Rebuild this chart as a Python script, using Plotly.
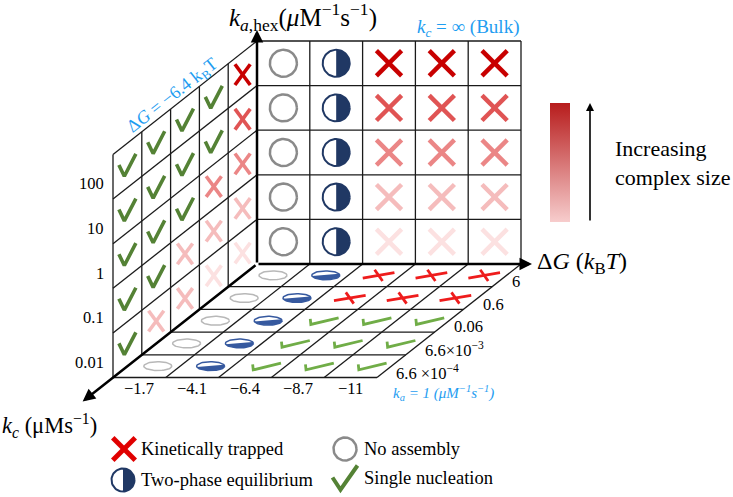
import numpy as np
import plotly.graph_objects as go

# ---- data -------------------------------------------------------------
dg_labels = ["−1.7", "−4.1", "−6.4", "−8.7", "−11"]
kc_labels = ["6", "0.6", "0.06", "6.6×10<sup>−3</sup>", "6.6 ×10<sup>−4</sup>"]
kahex_labels = ["0.01", "0.1", "1", "10", "100"]

# N = no assembly, T = two-phase, C = single nucleation, X0..X4 = trapped (size), XR = trapped (floor)
# back wall (kc = inf): rows ka_hex low -> high, columns dG
bulk = [
    ["N", "T", "X0", "X0", "X0"],
    ["N", "T", "X1", "X1", "X1"],
    ["N", "T", "X2", "X2", "X2"],
    ["N", "T", "X3", "X3", "X3"],
    ["N", "T", "X4", "X4", "X4"],
]
# side wall (dG = -6.4): rows ka_hex low -> high, columns kc 6 (back) -> 6.6e-4 (front)
side = [
    ["X0", "X0", "X1", "X1", "C"],
    ["X1", "X1", "X1", "C", "C"],
    ["X2", "X2", "C", "C", "C"],
    ["X3", "C", "C", "C", "C"],
    ["X4", "C", "C", "C", "C"],
]
# floor (ka = 1): rows kc 6 (back) -> 6.6e-4 (front), columns dG
floor = [
    ["N", "T", "XR", "XR", "XR"],
    ["N", "T", "XR", "XR", "XR"],
    ["N", "T", "C", "C", "C"],
    ["N", "T", "C", "C", "C"],
    ["N", "T", "C", "C", "C"],
]

x_colors = {"X0": "#fce1e1", "X1": "#f5bcbc", "X2": "#eb8686", "X3": "#e05454",
            "X4": "#c80000", "XR": "#ee1c1c"}
BLUE = "#1e9df1"
FONT = "Liberation Serif"

# ---- projection of the box -------------------------------------------
O = np.array([257.0, 264.0])
EX = np.array([52.8, 0.0])      # dG
EY = np.array([0.0, -44.6])     # ka_hex
EZ = np.array([-28.8, 22.7])    # kc (towards viewer)


def P(i, j, k):
    return O + i * EX + j * EY + k * EZ


segs = {}


def add_line(pts, color, width):
    xs, ys = segs.setdefault((color, width), ([], []))
    for p in pts:
        xs.append(p[0])
        ys.append(p[1])
    xs.append(None)
    ys.append(None)


fills = []


def on_plane(c, a, b, local):
    return [c + u * a + v * b for u, v in local]


CHECK = [(-0.5, 0.02), (-0.18, -0.47), (0.5, 0.5)]
XA = [(-0.45, -0.45), (0.45, 0.45)]
XB = [(-0.45, 0.45), (0.45, -0.45)]
t = np.linspace(0, 2 * np.pi, 61)
CIRCLE = list(zip(np.cos(t), np.sin(t)))


def draw_symbol(code, c, a, b, ra, rb, lw, floor_mode=False):
    if code.startswith("X"):
        col = x_colors[code]
        add_line(on_plane(c, a, b, XA), col, lw)
        add_line(on_plane(c, a, b, XB), col, lw)
    elif code == "C":
        add_line(on_plane(c, a, b, CHECK), "#70ad47" if floor_mode else "#548235", lw)
    elif code == "N":
        add_line(on_plane(c, ra, rb, CIRCLE), "#b8b8b8" if floor_mode else "#8a8a8a",
                 1.5 if floor_mode else 2.5)
    elif code == "T":
        if floor_mode:
            th = np.linspace(np.radians(-170), np.radians(20), 30)
            col = "#36599f"
        else:
            th = np.linspace(-np.pi / 2, np.pi / 2, 30)
            col = "#203864"
        half = [c + np.cos(q) * ra + np.sin(q) * rb for q in th]
        half.append(half[0])
        fills.append((half, col))
        add_line(on_plane(c, ra, rb, CIRCLE), col, 1.5 if floor_mode else 2)


# grid lines
GRID = "#1a1a1a"
for i in range(1, 6):
    add_line([P(i, 0, 0), P(i, 5, 0)], GRID, 1.3)
    add_line([P(i, 0, 0), P(i, 0, 5)], GRID, 1.3)
for j in range(1, 6):
    add_line([P(0, j, 0), P(5, j, 0)], GRID, 1.3)
    add_line([P(0, j, 0), P(0, j, 5)], GRID, 1.3)
for k in range(1, 6):
    add_line([P(0, 0, k), P(0, 5, k)], GRID, 1.3)
    add_line([P(0, 0, k), P(5, 0, k)], GRID, 1.3)

# symbols
for j in range(5):
    for i in range(5):
        draw_symbol(bulk[j][i], P(i + 0.5, j + 0.5, 0),
                    np.array([28.0, 0]), np.array([0, -28.0]),
                    np.array([13.5, 0]), np.array([0, -13.5]), 4.5)
for j in range(5):
    for k in range(5):
        draw_symbol(side[j][k], P(0, j + 0.5, k + 0.5),
                    np.array([17.0, 0]), np.array([0, -23.0]),
                    np.array([9.0, 0]), np.array([0, -13.0]), 3.6)
for k in range(5):
    for i in range(5):
        draw_symbol(floor[k][i], P(i + 0.5, 0, k + 0.5) + np.array([4, 0]),
                    np.array([22.0, 3.3]), np.array([13.2, -9.2]),
                    np.array([14.0, 0]), np.array([0, -4.4]), 2.8, floor_mode=True)

# legend symbols
legend = [("XL", np.array([124, 449])), ("N", np.array([345, 449])),
          ("T", np.array([123, 480])), ("C", np.array([345, 478]))]
x_colors["XL"] = "#e00000"
for code, c in legend:
    draw_symbol(code, c, np.array([25.0, 0]), np.array([0, -25.0]),
                np.array([11.5, 0]), np.array([0, -11.5]), 5 if code == "XL" else 4)

fig = go.Figure()

# colour bar for complex size
fig.add_trace(go.Scatter(
    x=[550, 570, 570, 550, 550], y=[103, 103, 222, 222, 103], mode="lines",
    line=dict(width=0), fill="toself",
    fillgradient=dict(type="vertical", start=222, stop=103,
                      colorscale=[[0, "#f7cdcd"], [1, "#b71c1c"]]),
    hoverinfo="skip"))

for pts, col in fills:
    fig.add_trace(go.Scatter(x=[p[0] for p in pts], y=[p[1] for p in pts], mode="lines",
                             line=dict(width=0, color=col), fill="toself", fillcolor=col,
                             hoverinfo="skip"))

for (col, w), (xs, ys) in segs.items():
    fig.add_trace(go.Scatter(x=xs, y=ys, mode="lines", line=dict(color=col, width=w),
                             hoverinfo="skip"))

ann = []


def text(x, y, s, size, color="black", xanchor="center", angle=0):
    ann.append(dict(x=x, y=y, text=s, showarrow=False, xanchor=xanchor, yanchor="middle",
                    textangle=angle, font=dict(family=FONT, size=size, color=color)))


def arrow(head, tail, w=2.5):
    ann.append(dict(x=head[0], y=head[1], ax=tail[0], ay=tail[1], axref="x", ayref="y",
                    xref="x", yref="y", text="", showarrow=True, arrowhead=2,
                    arrowsize=1, arrowwidth=w, arrowcolor="black", standoff=0))


# axes
arrow((257, 30), P(0, 0, 0))
arrow((532, 264), P(0, 0, 0))
arrow(P(0, 0, 0) + EZ / np.linalg.norm(EZ) * 222, P(0, 0, 0))
arrow((590, 103), (590, 222), 1.6)

for j, lab in enumerate(kahex_labels):
    text(106, P(0, j + 0.5, 5)[1] + 7, lab, 16.5, xanchor="right")
for i, lab in enumerate(dg_labels):
    text(P(i + 0.5, 0, 5)[0], 388, lab, 16.5)
for k, lab in enumerate(kc_labels):
    p = P(5, 0, k + 0.5)
    text(p[0] + 3, p[1] + 6, lab, 16.5, xanchor="left")

text(227, 17, "<i>k</i><sub><i>a</i>,hex</sub>(<i>μ</i>M<sup>−1</sup>s<sup>−1</sup>)", 25,
     xanchor="left")
text(468, 28, "<i>k</i><sub><i>c</i></sub> = ∞ (Bulk)", 19, BLUE)
text(172, 96, "Δ<i>G</i> = −6.4 k<sub>B</sub>T", 18, BLUE, angle=-38)
text(443, 393, "<i>k<sub>a</sub> = 1 (μM<sup>−1</sup>s<sup>−1</sup>)</i>", 15, BLUE)
text(535, 263, "Δ<i>G</i> (<i>k</i><sub>B</sub><i>T</i>)", 24, xanchor="left")
text(0, 425, "<i>k</i><sub><i>c</i></sub> (μMs<sup>−1</sup>)", 22.5, xanchor="left")
text(613, 148, "Increasing", 22, xanchor="left")
text(613, 177, "complex size", 22, xanchor="left")

text(139, 449, "Kinetically trapped", 18.5, xanchor="left")
text(362, 449, "No assembly", 18.5, xanchor="left")
text(139, 480, "Two-phase equilibrium", 18.5, xanchor="left")
text(362, 478, "Single nucleation", 18.5, xanchor="left")

fig.update_layout(
    width=733, height=497, margin=dict(l=0, r=0, t=0, b=0),
    paper_bgcolor="white", plot_bgcolor="white", showlegend=False,
    xaxis=dict(range=[0, 733], visible=False, fixedrange=True),
    yaxis=dict(range=[497, 0], visible=False, fixedrange=True),
    annotations=ann,
)

# the page body has a default 8px margin; drop it so the figure fills the window
fig.write_html("out.html", config={"displayModeBar": False},
               post_script="document.body.style.margin='0';")
